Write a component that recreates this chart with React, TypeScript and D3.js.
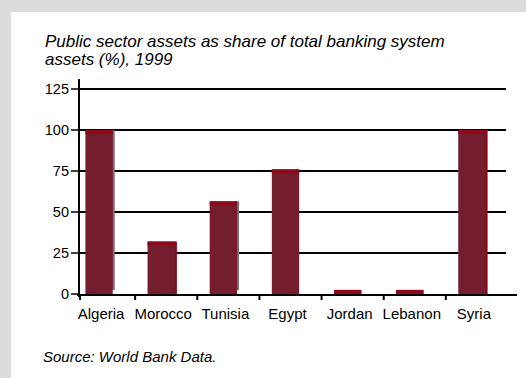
import React from "react";
import * as d3 from "d3";

const categories = ["Algeria", "Morocco", "Tunisia", "Egypt", "Jordan", "Lebanon", "Syria"];
const values = [100, 32, 56.5, 76, 2.5, 2.5, 100];
const yTicks = [0, 25, 50, 75, 100, 125];
const titleLines = ["Public sector assets as share of total banking system", "assets (%), 1999"];
const sourceText = "Source: World Bank Data.";

// style of the right-hand edge artifact of each bar
const edgeStyle: Record<string, string | null> = {
  Algeria: "#7b6a71",
  Morocco: "#8a0a1c",
  Tunisia: "#7b6a71",
  Egypt: null,
  Jordan: null,
  Lebanon: null,
  Syria: "#8a0a1c",
};

const W = 526;
const H = 378;
const FONT = "'Liberation Sans', Arial, Helvetica, sans-serif";

export default function App() {
  const axisX = 79;
  const gridRight = 506;
  const y = d3.scaleLinear().domain([0, 125]).range([294, 89]);
  const x = d3.scaleBand<string>().domain(categories).range([68, 503]).paddingInner(0.56).paddingOuter(0.28);
  const step = x.step();
  const bw = x.bandwidth();
  const base = y(0);

  return (
    <svg width={W} height={H} style={{ position: "fixed", left: 0, top: 0 }} fontFamily={FONT}>
      <rect x={0} y={0} width={W} height={H} fill="#dcdcdc" />
      <rect x={11} y={12} width={W - 11} height={H - 12} fill="#ffffff" />

      {titleLines.map((t, i) => (
        <text key={i} x={45} y={47 + i * 18} fontSize={17} fontStyle="italic" fill="#000">
          {t}
        </text>
      ))}

      {/* gridlines */}
      {yTicks.filter((v) => v > 0).map((v) => (
        <line key={v} x1={axisX} x2={gridRight} y1={y(v)} y2={y(v)} stroke="#000" strokeWidth={2} />
      ))}

      {/* bars */}
      {categories.map((c, i) => {
        const bx = x(c)!;
        const top = y(values[i]);
        const h = base - top;
        const edge = edgeStyle[c];
        const cap = Math.min(4, h);
        return (
          <g key={c}>
            {edge && (
              <rect
                x={bx + bw - 1}
                y={top}
                width={3}
                height={edge === "#7b6a71" ? h - 4 : h}
                fill={edge}
              />
            )}
            <rect x={bx} y={top} width={bw} height={h} fill="#741d2f" />
            <rect x={bx} y={top} width={bw} height={cap} fill="#8a0a1c" />
          </g>
        );
      })}

      {/* y axis */}
      <line x1={axisX} x2={axisX} y1={79} y2={297} stroke="#000" strokeWidth={2} />
      {yTicks.map((v) => (
        <g key={v}>
          <line x1={axisX - 8} x2={axisX} y1={y(v)} y2={y(v)} stroke="#000" strokeWidth={1.5} />
          <text x={69} y={y(v) + 5} fontSize={14.5} textAnchor="end" fill="#000">
            {v}
          </text>
        </g>
      ))}

      {/* x axis */}
      <line x1={77} x2={517} y1={base + 1} y2={base + 1} stroke="#000" strokeWidth={2} />
      {categories.map((c, i) => {
        const tx = i === 0 ? axisX + 1 : x(c)! - (step - bw) / 2 + 5;
        return <line key={"t" + c} x1={tx} x2={tx} y1={base} y2={base + 6} stroke="#000" strokeWidth={2} />;
      })}
      {categories.map((c) => (
        <text key={"l" + c} x={x(c)! + bw / 2 + 2} y={319} fontSize={15} textAnchor="middle" fill="#000">
          {c}
        </text>
      ))}

      <text x={43} y={362} fontSize={15} fontStyle="italic" fill="#000">
        {sourceText}
      </text>
    </svg>
  );
}
